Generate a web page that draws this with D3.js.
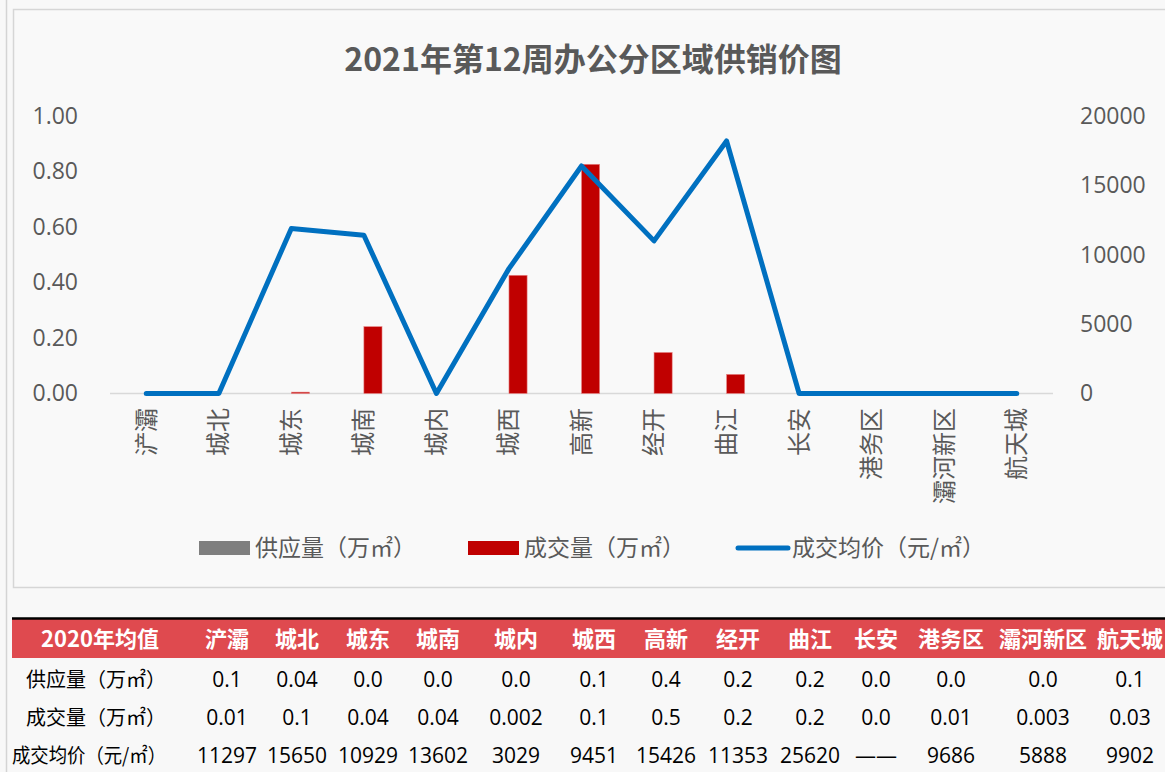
<!DOCTYPE html>
<html>
<head>
<meta charset="utf-8">
<script src="https://cdn.jsdelivr.net/npm/d3@7"></script>
<style>
  html, body { margin: 0; padding: 0; background: #f8f8f8; }
  svg { display: block; }
  text { font-family: "Open Sans", "Noto Sans CJK SC", sans-serif; }
  .cjk { font-family: "Noto Sans CJK SC", "Open Sans", sans-serif; }
</style>
</head>
<body>
<div id="wrapper"></div>
<script>
// Data
const title = "2021年第12周办公分区域供销价图";
const districts = ["浐灞", "城北", "城东", "城南", "城内", "城西", "高新", "经开", "曲江", "长安", "港务区", "灞河新区", "航天城"];
const supply = [0, 0, 0, 0, 0, 0, 0, 0, 0, 0, 0, 0, 0];
const deal = [0, 0, 0.005, 0.241, 0, 0.426, 0.826, 0.148, 0.069, 0, 0, 0, 0];
const avgPrice = [0, 0, 11900, 11400, 0, 9000, 16400, 11000, 18200, 0, 0, 0, 0];
const leftTicks = [0, 0.2, 0.4, 0.6, 0.8, 1.0];
const rightTicks = [0, 5000, 10000, 15000, 20000];
const legendLabels = ["供应量（万㎡）", "成交量（万㎡）", "成交均价（元/㎡）"];

// 2020 table
const tableCorner = "2020年均值";
const tableDistricts = ["浐灞", "城北", "城东", "城南", "城内", "城西", "高新", "经开", "曲江", "长安", "港务区", "灞河新区", "航天城"];
const tableRowLabels = ["供应量（万㎡）", "成交量（万㎡）", "成交均价（元/㎡）"];
const supply2020 = ["0.1", "0.04", "0.0", "0.0", "0.0", "0.1", "0.4", "0.2", "0.2", "0.0", "0.0", "0.0", "0.1"];
const deal2020 = ["0.01", "0.1", "0.04", "0.04", "0.002", "0.1", "0.5", "0.2", "0.2", "0.0", "0.01", "0.003", "0.03"];
const price2020 = ["11297", "15650", "10929", "13602", "3029", "9451", "15426", "11353", "25620", "——", "9686", "5888", "9902"];

// Dimensions
const width = 1165, height = 772;
const plot = { left: 110, right: 1053, top: 116, bottom: 393.5 };
const colWidths = [178, 74, 66, 76, 64, 92, 64, 80, 64, 80, 52, 98, 86, 88];
const rowLabelWidths = [140, 140, 154];

const svg = d3.select("#wrapper").append("svg")
  .attr("width", width).attr("height", height);

// frames
svg.append("line")
  .attr("x1", 6.5).attr("x2", 6.5).attr("y1", 0).attr("y2", height)
  .attr("stroke", "#d4d4d4").attr("stroke-width", 1.5);
svg.append("rect")
  .attr("x", 13.5).attr("y", 9.5).attr("width", 1200).attr("height", 578)
  .attr("fill", "#f9f9f9").attr("stroke", "#d6d6d6").attr("stroke-width", 1.5);

// Title
svg.append("text").attr("class", "cjk")
  .attr("x", 593).attr("y", 71)
  .attr("text-anchor", "middle")
  .attr("font-size", 32).attr("font-weight", "bold").attr("fill", "#595959")
  .text(title);

// Scales
const xScale = d3.scaleBand().domain(districts).range([plot.left, plot.right]);
const seriesScale = d3.scaleBand().domain(["supply", "deal"])
  .range([0, xScale.bandwidth()]).paddingInner(0).paddingOuter(1);
const yLeft = d3.scaleLinear().domain([0, 1]).range([plot.bottom, plot.top]);
const yRight = d3.scaleLinear().domain([0, 20000]).range([plot.bottom, plot.top]);

// baseline
svg.append("line")
  .attr("x1", plot.left).attr("x2", plot.right)
  .attr("y1", yLeft(0)).attr("y2", yLeft(0))
  .attr("stroke", "#d9d9d9").attr("stroke-width", 1.5);

// Axes
const leftAxis = svg.append("g")
  .attr("transform", `translate(${plot.left},0)`)
  .call(d3.axisLeft(yLeft).tickValues(leftTicks).tickFormat(d3.format(".2f")).tickSize(0).tickPadding(32));
const rightAxis = svg.append("g")
  .attr("transform", `translate(${plot.right},0)`)
  .call(d3.axisRight(yRight).tickValues(rightTicks).tickFormat(d3.format("d")).tickSize(0).tickPadding(27));
[leftAxis, rightAxis].forEach((a) => {
  a.select(".domain").remove();
  a.selectAll("text").attr("font-size", 23).attr("fill", "#595959")
    .attr("font-family", "'Open Sans', sans-serif");
});

// category labels
svg.append("g").selectAll("text")
  .data(districts)
  .join("text")
  .attr("class", "cjk")
  .attr("transform", (d) => `translate(${xScale(d) + xScale.bandwidth() / 2},408) rotate(-90)`)
  .attr("text-anchor", "end")
  .attr("dy", "0.35em")
  .attr("font-size", 24).attr("fill", "#595959")
  .text((d) => d);

// Bars
const barData = districts.flatMap((d, i) => [
  { district: d, key: "supply", value: supply[i] },
  { district: d, key: "deal", value: deal[i] },
]);
const barColor = { supply: "#7f7f7f", deal: "#c00000" };
svg.append("g").selectAll("rect")
  .data(barData.filter((d) => d.value > 0))
  .join("rect")
  .attr("x", (d) => xScale(d.district) + seriesScale(d.key))
  .attr("y", (d) => yLeft(d.value))
  .attr("width", seriesScale.bandwidth())
  .attr("height", (d) => yLeft(0) - yLeft(d.value))
  .attr("fill", (d) => barColor[d.key])
  .attr("stroke", (d) => d.key === "deal" ? "#e88a8a" : "none")
  .attr("stroke-width", 0.6);

// Line
const lineGenerator = d3.line()
  .x((d, i) => xScale(districts[i]) + xScale.bandwidth() / 2)
  .y((d) => yRight(d));
svg.append("path")
  .attr("d", lineGenerator(avgPrice))
  .attr("fill", "none")
  .attr("stroke", "#0070c0")
  .attr("stroke-width", 5)
  .attr("stroke-linejoin", "round")
  .attr("stroke-linecap", "round");

// Legend
const legendY = 548;
const legendItems = [
  { x: 199, type: "rect", color: "#7f7f7f", label: legendLabels[0] },
  { x: 468, type: "rect", color: "#c00000", label: legendLabels[1] },
  { x: 736, type: "line", color: "#0070c0", label: legendLabels[2] },
];
const legend = svg.append("g");
legendItems.forEach((item) => {
  if (item.type === "rect") {
    legend.append("rect")
      .attr("x", item.x).attr("y", legendY - 7)
      .attr("width", 51).attr("height", 14)
      .attr("fill", item.color);
  } else {
    legend.append("line")
      .attr("x1", item.x + 2).attr("x2", item.x + 52)
      .attr("y1", legendY).attr("y2", legendY)
      .attr("stroke", item.color).attr("stroke-width", 5)
      .attr("stroke-linecap", "round");
  }
  legend.append("text").attr("class", "cjk")
    .attr("x", item.x + 56).attr("y", legendY)
    .attr("dy", "0.35em")
    .attr("font-size", 23).attr("fill", "#595959")
    .text(item.label);
});

// Table
const colEdges = [12];
colWidths.forEach((w) => colEdges.push(colEdges[colEdges.length - 1] + w));
const colCenter = (i) => (colEdges[i] + colEdges[i + 1]) / 2;

const table = svg.append("g");
table.append("rect")
  .attr("x", 12).attr("y", 619).attr("width", width - 12).attr("height", 39)
  .attr("fill", "#df4a4f");
table.append("line")
  .attr("x1", 12).attr("x2", width).attr("y1", 618.5).attr("y2", 618.5)
  .attr("stroke", "#000").attr("stroke-width", 2.5);

const headerCells = [tableCorner, ...tableDistricts];
table.append("g").selectAll("text")
  .data(headerCells)
  .join("text")
  .attr("class", "cjk")
  .attr("x", (d, i) => (i === 0 ? 100 : colCenter(i)))
  .attr("y", 639).attr("dy", "0.35em")
  .attr("text-anchor", "middle")
  .attr("font-size", 22).attr("font-weight", "bold").attr("fill", "#fff")
  .text((d) => d);

const rows = [supply2020, deal2020, price2020];
const rowY = [680, 718, 756];
rows.forEach((row, r) => {
  const g = table.append("g");
  g.append("text").attr("class", "cjk")
    .attr("x", 166).attr("y", rowY[r]).attr("dy", "0.35em")
    .attr("text-anchor", "end")
    .attr("font-size", 20).attr("fill", "#000")
    .attr("textLength", rowLabelWidths[r])
    .attr("lengthAdjust", "spacingAndGlyphs")
    .text(tableRowLabels[r]);
  g.selectAll("text.val")
    .data(row)
    .join("text")
    .attr("class", "val")
    .attr("x", (d, i) => colCenter(i + 1))
    .attr("y", rowY[r]).attr("dy", "0.35em")
    .attr("text-anchor", "middle")
    .attr("font-size", 21).attr("fill", "#000")
    .attr("font-family", "'Open Sans', 'Noto Sans CJK SC', sans-serif")
    .text((d) => d);
});
</script>
</body>
</html>
